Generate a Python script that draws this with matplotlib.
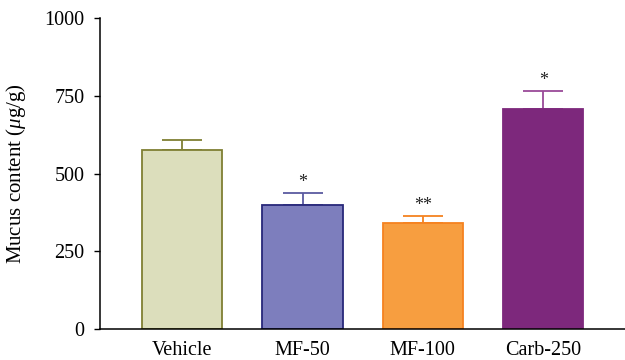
import numpy as np
import matplotlib.pyplot as plt

plt.rcParams['font.family'] = ['Liberation Serif', 'DejaVu Serif']
plt.rcParams['mathtext.fontset'] = 'custom'
plt.rcParams['mathtext.it'] = 'Liberation Serif:italic'
plt.rcParams['mathtext.rm'] = 'Liberation Serif'

# Mucus content per group (mean and SEM, ug/g)
groups = ['Vehicle', 'MF-50', 'MF-100', 'Carb-250']
mucus = [575, 398, 340, 706]
sem = [32, 38, 24, 58]
stars = ['', '*', '**', '*']

fill_colors = ['#dcdebc', '#7d7ebd', '#f79e40', '#7d287c']
edge_colors = ['#7f7f33', '#28287a', '#f58220', '#7d287c']
err_colors = ['#7f7f33', '#5a5aa0', '#f58220', '#9a4a98']

fig = plt.figure(figsize=(6.25, 3.6), dpi=100)
ax = fig.add_axes([0.16, 0.085, 0.84, 0.866])

x = np.arange(len(groups))
for i in range(len(groups)):
    ax.errorbar(x[i], mucus[i], yerr=[[0], [sem[i]]], fmt='none',
                ecolor=err_colors[i], elinewidth=1.3, capsize=14.5,
                capthick=1.3, zorder=1)
    ax.bar(x[i], mucus[i], width=0.667, color=fill_colors[i],
           edgecolor=edge_colors[i], linewidth=1.3, zorder=2)
    if stars[i]:
        ax.annotate(stars[i], (x[i], mucus[i] + sem[i]), xytext=(0, 1.5),
                    textcoords='offset points', ha='center', va='bottom',
                    fontsize=13, color='#222222')

ax.set_xlim(-0.683, 3.68)
ax.set_ylim(0, 1000)
ax.set_yticks([0, 250, 500, 750, 1000])
ax.set_xticks(x)
ax.set_xticklabels(groups)
ax.tick_params(axis='x', length=0, pad=8, labelsize=14.5)
ax.tick_params(axis='y', length=4, width=1, pad=7, labelsize=14.5)
ax.set_ylabel(r'Mucus content ($\mu$g/g)', fontsize=15, labelpad=12)

ax.spines['top'].set_visible(False)
ax.spines['right'].set_visible(False)
ax.spines['left'].set_linewidth(1.1)
ax.spines['bottom'].set_linewidth(1.1)

fig.savefig('out.png', dpi=100)
